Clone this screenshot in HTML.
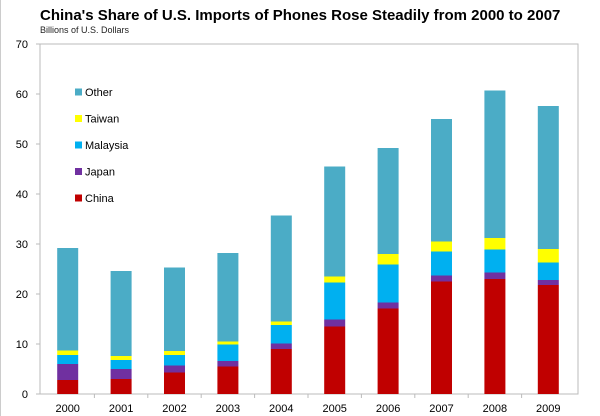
<!DOCTYPE html>
<html><head><meta charset="utf-8"><style>
body{margin:0;background:#fff;width:600px;height:416px;overflow:hidden;font-family:"Liberation Sans",sans-serif}
svg{display:block}
</style></head><body>
<svg width="600" height="416">
<line x1="0.5" y1="0" x2="0.5" y2="416" stroke="#ccc"/>
<text x="40" y="20" font-size="15" font-weight="bold" fill="#000">China's Share of U.S. Imports of Phones Rose Steadily from 2000 to 2007</text>
<text x="40" y="33" font-size="9" fill="#222">Billions of U.S. Dollars</text>
<rect x="40" y="44" width="538" height="350" fill="none" stroke="#bbb"/>
<g id="ticks"></g><g id="bars"></g><g id="legend"></g>
</svg>
<script>
const years=['2000','2001','2002','2003','2004','2005','2006','2007','2008','2009'];
const china=[2.8,3.0,4.3,5.5,9.0,13.5,17.1,22.5,23.0,21.8];
const japan=[3.2,2.0,1.4,1.1,1.1,1.4,1.2,1.2,1.3,1.0];
const malaysia=[1.8,1.8,2.1,3.3,3.7,7.4,7.6,4.8,4.6,3.5];
const taiwan=[0.9,0.8,0.8,0.6,0.7,1.2,2.1,2.0,2.3,2.7];
const other=[20.5,17.0,16.7,17.7,21.2,22.0,21.2,24.5,29.5,28.6];
const yTicks=[0,10,20,30,40,50,60,70];
const seriesNames=['China','Japan','Malaysia','Taiwan','Other'];
const seriesData=[china,japan,malaysia,taiwan,other];
const colors=['#c00000','#7030a0','#00b0f0','#ffff00','#4bacc6'];
const NS='http://www.w3.org/2000/svg';
const y0=394,y1=44,vmax=70,xl=40,xr=578;
const ys=v=>y0-(v/vmax)*(y0-y1);
const step=(xr-xl-4)/years.length;
const xc=i=>xl+step*(i+0.5)+1;
function mk(tag,a,p){const e=document.createElementNS(NS,tag);for(const k in a)e.setAttribute(k,a[k]);p.appendChild(e);return e;}
const tg=document.getElementById('ticks');
yTicks.forEach(t=>{
 const tx=mk('text',{x:28,y:ys(t)+4,'font-size':11,'text-anchor':'end',fill:'#000'},tg);
 tx.textContent=t;
 
 
 const l=mk('line',{x1:36,x2:40,y1:ys(t),y2:ys(t),stroke:'#bbb'},tg);
 
 
});
const bg=document.getElementById('bars');
years.forEach((yr,i)=>{
 let acc=0;
 seriesData.forEach((s,j)=>{
  const v=s[i];
  const r=mk('rect',{x:xc(i)-10.5,width:21,y:ys(acc+v),height:ys(acc)-ys(acc+v),fill:colors[j]},bg);
  
  
  acc+=v;
 });
 const t=mk('text',{x:xc(i),y:412,'font-size':11,'text-anchor':'middle',fill:'#000'},bg);
 t.textContent=yr;
 
 
 if(i>0){const l=mk('line',{x1:xl+step*i+1,x2:xl+step*i+1,y1:394,y2:398,stroke:'#bbb'},bg);
 
 }
});
const lg=document.getElementById('legend');
[4,3,2,1,0].forEach((j,k)=>{
 const y=92+k*26.5;
 const r=mk('rect',{x:75,y:y-3.5,width:7,height:7,fill:colors[j]},lg);
 
 
 const t=mk('text',{x:85,y:y+4,'font-size':11,fill:'#000'},lg);
 t.textContent=seriesNames[j];
 
 
});
</script>
</body></html>
